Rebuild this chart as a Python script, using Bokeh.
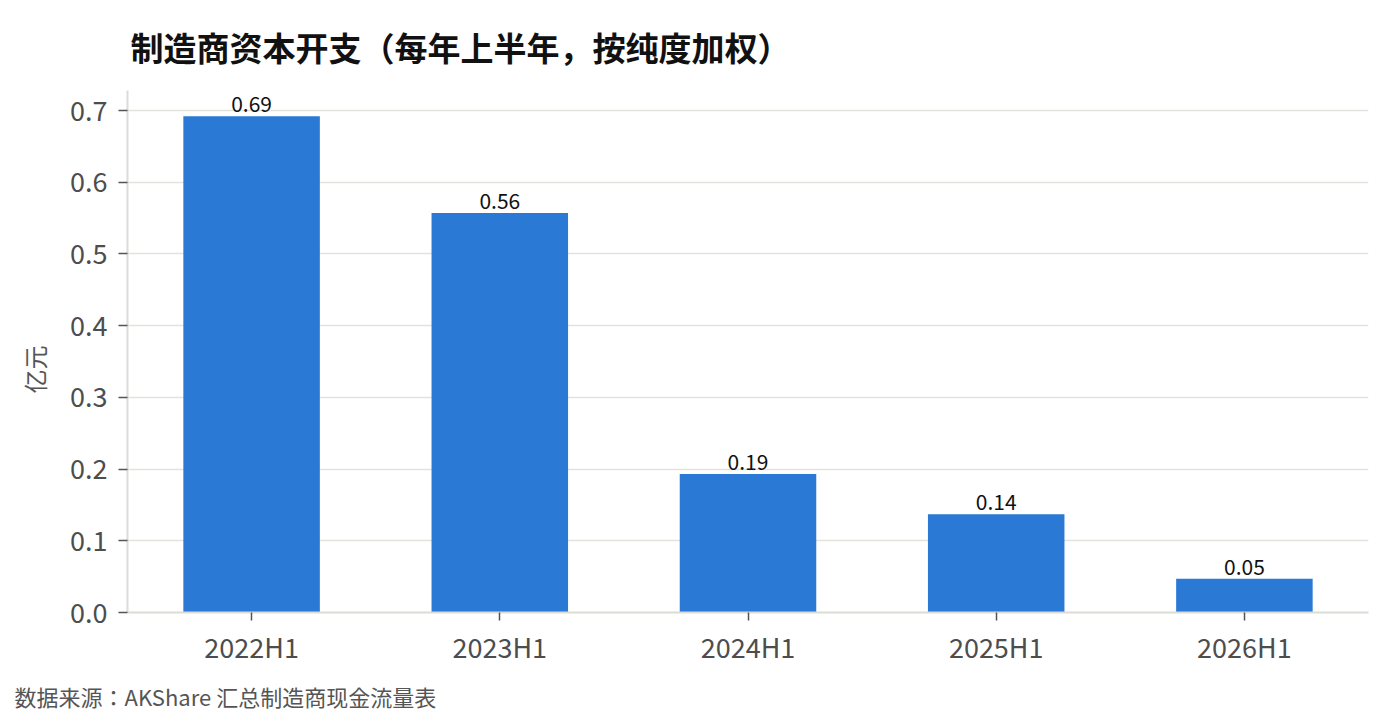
from bokeh.plotting import figure
from bokeh.models import ColumnDataSource, Title, Range1d, FactorRange, PrintfTickFormatter
from bokeh.embed import file_html
from bokeh.resources import INLINE
from bokeh.core.properties import value

periods = ["2022H1", "2023H1", "2024H1", "2025H1", "2026H1"]
capex = [0.692, 0.557, 0.193, 0.137, 0.047]
labels = [f"{v:.2f}" for v in capex]
y_ticks = [0.0, 0.1, 0.2, 0.3, 0.4, 0.5, 0.6, 0.7]

FONT = "Noto Sans CJK JP"

src = ColumnDataSource(dict(period=periods, capex=capex, label=labels))

p = figure(
    width=1392, height=720,
    x_range=FactorRange(*periods, range_padding=0.0),
    y_range=Range1d(0, 0.728),
    output_backend="svg", toolbar_location=None, tools="",
    min_border_left=127, min_border_right=24, min_border_top=90, min_border_bottom=107,
)
p.x_range.range_padding = 0
p.outline_line_color = None

p.vbar(x="period", top="capex", width=0.55, source=src, color="#2a79d5", line_color=None)
p.text(x="period", y="capex", text="label", source=src, text_align="center",
       text_baseline="bottom", y_offset=-4, text_font=value(FONT),
       text_font_size="21px", text_color="#111111")

p.xgrid.grid_line_color = None
p.ygrid.grid_line_color = "#e3e3de"
p.ygrid.grid_line_width = 1.5
p.ygrid.ticker = y_ticks

ya = p.yaxis[0]
ya.ticker = y_ticks
ya.formatter = PrintfTickFormatter(format="%.1f")
ya.axis_line_color = "#dcdcd6"
ya.axis_line_width = 2
ya.major_tick_line_color = "#555555"
ya.major_tick_line_width = 1.5
ya.major_tick_out = 9
ya.major_tick_in = 0
ya.minor_tick_line_color = None
ya.major_label_text_font = FONT
ya.major_label_text_font_size = "27px"
ya.major_label_text_color = "#4d4d4d"
ya.major_label_standoff = 11
ya.axis_label = "亿元\u3000\u2002"
ya.axis_label_text_font = FONT
ya.axis_label_text_font_size = "24px"
ya.axis_label_text_font_style = "normal"
ya.axis_label_text_color = "#555555"
ya.axis_label_standoff = 15

xa = p.xaxis[0]
xa.axis_line_color = "#dcdcd6"
xa.axis_line_width = 2
xa.major_tick_line_color = "#555555"
xa.major_tick_line_width = 1.5
xa.major_tick_out = 8
xa.major_tick_in = 0
xa.minor_tick_line_color = None
xa.major_label_text_font = FONT
xa.major_label_text_font_size = "27px"
xa.major_label_text_color = "#4d4d4d"
xa.major_label_standoff = 6

title = Title(text="制造商资本开支（每年上半年，按纯度加权）", align="left", offset=3,
              text_font=FONT, text_font_size="33px", text_font_style="bold",
              text_color="#111111", standoff=40)
p.add_layout(title, "above")

footer = Title(text="数据来源：AKShare 汇总制造商现金流量表", align="left", offset=-113,
               text_font=FONT, text_font_size="22px", text_font_style="normal",
               text_color="#555555", standoff=18)
p.add_layout(footer, "below")

open("out.html", "w").write(file_html(p, INLINE))
